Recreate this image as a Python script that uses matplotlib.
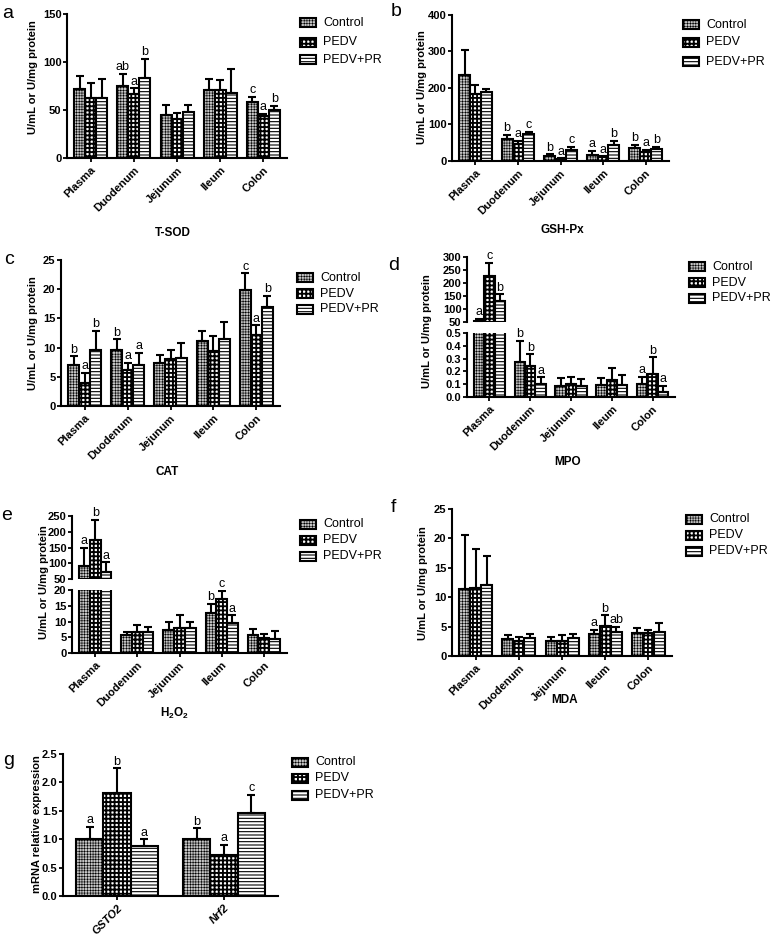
import matplotlib
matplotlib.use("Agg")
import matplotlib.pyplot as plt
from matplotlib.patches import Rectangle
import numpy as np

plt.rcParams['font.family'] = ['Liberation Sans', 'DejaVu Sans']
plt.rcParams['mathtext.fontset'] = 'custom'
plt.rcParams['mathtext.rm'] = 'Liberation Sans'
plt.rcParams['mathtext.bf'] = 'Liberation Sans:bold'

W, H = 772, 938

groups = ["Control", "PEDV", "PEDV+PR"]
tissues = ["Plasma", "Duodenum", "Jejunum", "Ileum", "Colon"]
genes = ["GSTO2", "Nrf2"]

# T-SOD
tsod_ctrl = [71.7, 74.5, 45.0, 70.7, 58.0]
tsod_pedv = [62.0, 67.0, 41.0, 70.7, 43.3]
tsod_pr = [63.0, 83.5, 48.0, 68.0, 50.0]
tsod_ctrl_sd = [14.2, 13.5, 9.7, 11.3, 5.7]
tsod_pedv_sd = [16.6, 5.7, 5.4, 11.0, 2.4]
tsod_pr_sd = [19.4, 19.5, 7.0, 24.8, 4.0]
tsod_letters = [["", "ab", "", "", "c"], ["", "a", "", "", "a"], ["", "b", "", "", "b"]]

# GSH-Px
gsh_ctrl = [236.7, 60.5, 13.8, 17.4, 35.0]
gsh_pedv = [183.5, 46.0, 5.5, 10.0, 24.0]
gsh_pr = [189.0, 74.3, 31.0, 43.0, 32.0]
gsh_ctrl_sd = [66.1, 11.1, 4.2, 10.1, 10.0]
gsh_pedv_sd = [24.5, 9.0, 1.5, 2.8, 7.0]
gsh_pr_sd = [9.0, 6.4, 7.5, 12.0, 6.5]
gsh_letters = [["", "b", "b", "a", "b"], ["", "a", "a", "a", "a"], ["", "c", "c", "b", "b"]]

# CAT
cat_ctrl = [7.0, 9.6, 7.4, 11.2, 19.9]
cat_pedv = [3.96, 6.1, 7.97, 9.46, 12.2]
cat_pr = [9.6, 7.0, 8.3, 11.5, 17.0]
cat_ctrl_sd = [1.5, 1.8, 1.4, 1.6, 2.8]
cat_pedv_sd = [1.7, 1.3, 1.7, 2.6, 1.6]
cat_pr_sd = [3.3, 2.1, 2.5, 2.9, 1.9]
cat_letters = [["b", "b", "", "", "c"], ["a", "a", "", "", "a"], ["b", "a", "", "", "b"]]

# MPO
mpo_ctrl = [55.0, 0.276, 0.083, 0.094, 0.099]
mpo_pedv = [228.0, 0.245, 0.10, 0.13, 0.18]
mpo_pr = [129.5, 0.104, 0.083, 0.094, 0.042]
mpo_ctrl_sd = [8.0, 0.16, 0.068, 0.057, 0.057]
mpo_pedv_sd = [50.0, 0.088, 0.06, 0.094, 0.13]
mpo_pr_sd = [26.5, 0.05, 0.06, 0.076, 0.047]
mpo_letters = [["a", "b", "", "", "a"], ["c", "b", "", "", "b"], ["b", "a", "", "", "a"]]

# H2O2
h2o2_ctrl = [91.6, 5.8, 7.4, 12.6, 5.7]
h2o2_pedv = [174.0, 6.7, 7.9, 17.1, 4.8]
h2o2_pr = [71.0, 6.8, 7.9, 9.4, 4.4]
h2o2_ctrl_sd = [58.0, 1.0, 2.6, 3.1, 1.8]
h2o2_pedv_sd = [64.0, 2.3, 4.3, 2.6, 1.3]
h2o2_pr_sd = [32.0, 1.3, 2.0, 2.6, 2.5]
h2o2_letters = [["a", "", "", "b", ""], ["b", "", "", "c", ""], ["a", "", "", "a", ""]]

# MDA
mda_ctrl = [11.4, 2.9, 2.56, 3.75, 3.98]
mda_pedv = [11.6, 2.56, 2.56, 5.1, 3.98]
mda_pr = [12.0, 3.07, 3.0, 4.0, 4.15]
mda_ctrl_sd = [9.1, 0.7, 0.74, 0.75, 0.82]
mda_pedv_sd = [6.6, 0.74, 1.04, 1.8, 0.52]
mda_pr_sd = [5.0, 0.63, 0.7, 0.9, 1.45]
mda_letters = [["", "", "", "a", ""], ["", "", "", "b", ""], ["", "", "", "ab", ""]]

# mRNA
mrna_ctrl = [1.0, 1.0]
mrna_pedv = [1.82, 0.73]
mrna_pr = [0.875, 1.46]
mrna_ctrl_sd = [0.22, 0.19]
mrna_pedv_sd = [0.43, 0.17]
mrna_pr_sd = [0.125, 0.32]
mrna_letters = [["a", "b"], ["b", "a"], ["a", "c"]]

styles = {
    "Control": dict(facecolor="#c4c4c4", hatch="++++++"),
    "PEDV": dict(facecolor="white", hatch="++++"),
    "PEDV+PR": dict(facecolor="white", hatch="-----"),
}
hatch_lw = {"Control": 0.4, "PEDV": 1.35, "PEDV+PR": 0.8}

BAR_W = 0.255
YLABEL = "U/mL or U/mg protein"
TICK_FS = 8
LAB_FS = 8


def set_hlw(artists, lw):
    for a in artists:
        if hasattr(a, "set_hatch_linewidth"):
            a.set_hatch_linewidth(lw)


def px_axes(fig, x0, x1, ytop, ybot):
    return fig.add_axes([x0 / W, 1 - ybot / H, (x1 - x0) / W, (ybot - ytop) / H])


def style_axis(ax, show_x=True):
    for s in ["top", "right"]:
        ax.spines[s].set_visible(False)
    ax.spines["left"].set_linewidth(1.5)
    ax.spines["bottom"].set_linewidth(1.5)
    ax.tick_params(axis="y", length=3, width=1.3, pad=1, labelsize=TICK_FS)
    ax.tick_params(axis="x", length=3, width=1.3, pad=2, labelsize=TICK_FS)
    for t in ax.get_yticklabels():
        t.set_fontweight("bold")
    if not show_x:
        ax.spines["bottom"].set_visible(False)
        ax.tick_params(axis="x", length=0, labelbottom=False)


def draw_bars(ax, means, sds, letters, base=0.0):
    lo, hi = ax.get_ylim()
    n = len(means[0])
    x = np.arange(n)
    for k, g in enumerate(groups):
        xs = x + (k - 1) * BAR_W
        m = np.array(means[k], dtype=float)
        sd = np.array(sds[k], dtype=float)
        keep = m > base
        with plt.rc_context({"hatch.linewidth": hatch_lw[g]}):
            bc = ax.bar(xs[keep], m[keep] - base, BAR_W, bottom=base, edgecolor="black",
                        linewidth=1.5, zorder=2, **styles[g])
            set_hlw(bc.patches, hatch_lw[g])
        ax.errorbar(xs[keep], m[keep], yerr=[np.zeros(keep.sum()), sd[keep]], fmt="none",
                    ecolor="black", elinewidth=1.5, capsize=3, capthick=1.5, zorder=3)
        for i in range(n):
            top = m[i] + sd[i]
            if letters[k][i] and lo <= top <= hi:
                ax.annotate(letters[k][i], (xs[i], top), xytext=(0, 0.5),
                            textcoords="offset points", ha="center", va="bottom",
                            fontsize=9, zorder=4)


def set_xcats(ax, labels, italic=False, lim=(-0.55, 4.55)):
    ax.set_xlim(*lim)
    ax.set_xticks(np.arange(len(labels)))
    ax.set_xticklabels(labels, rotation=45, ha="right", rotation_mode="anchor",
                       fontweight="bold", fontstyle="italic" if italic else "normal")


def legend(fig, x, ys):
    for g, y in zip(groups, ys):
        with plt.rc_context({"hatch.linewidth": hatch_lw[g]}):
            r = Rectangle((x / W, 1 - (y + 4.5) / H), 16 / W, 9 / H, transform=fig.transFigure,
                          edgecolor="black", linewidth=1.5, **styles[g])
            set_hlw([r], hatch_lw[g])
        fig.add_artist(r)
        fig.text((x + 23) / W, 1 - y / H, g, fontsize=9, ha="left", va="center")


def ylabel(fig, x, y, text):
    fig.text(x / W, 1 - y / H, text, rotation=90, ha="center", va="center",
             fontsize=LAB_FS, fontweight="bold")


def xlabel(fig, x, y, text):
    fig.text(x / W, 1 - y / H, text, ha="center", va="center", fontsize=8.5, fontweight="bold")


def letter(fig, x, y, text):
    fig.text(x / W, 1 - y / H, text, ha="center", va="center", fontsize=14)


def simple_panel(fig, box, means, sds, letters, ylim, yticks, cats, italic=False,
                 lim=(-0.55, 4.55), yfmt=None):
    ax = px_axes(fig, *box)
    ax.set_ylim(*ylim)
    ax.set_yticks(yticks)
    if yfmt:
        ax.set_yticklabels([yfmt % v for v in yticks])
    draw_bars(ax, means, sds, letters)
    set_xcats(ax, cats, italic, lim)
    style_axis(ax)
    return ax


def broken_panel(fig, xs, upper_box, lower_box, means, sds, letters, up_lim, up_ticks,
                 low_lim, low_ticks, low_fmt=None):
    up = px_axes(fig, xs[0], xs[1], *upper_box)
    up.set_ylim(*up_lim)
    up.set_yticks(up_ticks)
    draw_bars(up, means, sds, letters, base=up_lim[0])
    up.set_xlim(-0.55, 4.55)
    style_axis(up, show_x=False)
    low = px_axes(fig, xs[0], xs[1], *lower_box)
    low.set_ylim(*low_lim)
    low.set_yticks(low_ticks)
    if low_fmt:
        low.set_yticklabels([low_fmt % v for v in low_ticks])
    draw_bars(low, means, sds, letters)
    set_xcats(low, tissues)
    style_axis(low)
    return up, low


fig = plt.figure(figsize=(W / 100, H / 100), dpi=100)

# a
simple_panel(fig, (67, 287, 14, 158), [tsod_ctrl, tsod_pedv, tsod_pr],
             [tsod_ctrl_sd, tsod_pedv_sd, tsod_pr_sd], tsod_letters,
             (0, 150), [0, 50, 100, 150], tissues)
legend(fig, 300, [23, 42, 60])
ylabel(fig, 33, 77, YLABEL)
xlabel(fig, 173, 233, "T-SOD")
letter(fig, 8, 13, "a")

# b
simple_panel(fig, (452, 669, 15, 161), [gsh_ctrl, gsh_pedv, gsh_pr],
             [gsh_ctrl_sd, gsh_pedv_sd, gsh_pr_sd], gsh_letters,
             (0, 400), [0, 100, 200, 300, 400], tissues)
legend(fig, 683, [25, 42, 62])
ylabel(fig, 422, 87, YLABEL)
xlabel(fig, 562, 230, "GSH-Px")
letter(fig, 396, 12, "b")

# c
simple_panel(fig, (61, 280, 260, 406), [cat_ctrl, cat_pedv, cat_pr],
             [cat_ctrl_sd, cat_pedv_sd, cat_pr_sd], cat_letters,
             (0, 25), [0, 5, 10, 15, 20, 25], tissues)
legend(fig, 297, [278, 294, 309])
ylabel(fig, 33, 333, YLABEL)
xlabel(fig, 167, 472, "CAT")
letter(fig, 9, 260, "c")

# d
broken_panel(fig, (467, 675), (257, 322), (333, 397), [mpo_ctrl, mpo_pedv, mpo_pr],
             [mpo_ctrl_sd, mpo_pedv_sd, mpo_pr_sd], mpo_letters,
             (50, 300), [50, 100, 150, 200, 250, 300],
             (0, 0.5), [0, 0.1, 0.2, 0.3, 0.4, 0.5], "%.1f")
legend(fig, 689, [267, 283, 298])
ylabel(fig, 427, 331, YLABEL)
xlabel(fig, 568, 462, "MPO")
letter(fig, 394, 265, "d")

# e
broken_panel(fig, (72, 287), (516, 579), (590, 653), [h2o2_ctrl, h2o2_pedv, h2o2_pr],
             [h2o2_ctrl_sd, h2o2_pedv_sd, h2o2_pr_sd], h2o2_letters,
             (50, 250), [50, 100, 150, 200, 250],
             (0, 20), [0, 5, 10, 15, 20])
legend(fig, 300, [524, 540, 556])
ylabel(fig, 44, 582, YLABEL)
xlabel(fig, 175, 713, r"$\mathbf{H_2O_2}$")
letter(fig, 7, 516, "e")

# f
simple_panel(fig, (452, 672, 509, 656), [mda_ctrl, mda_pedv, mda_pr],
             [mda_ctrl_sd, mda_pedv_sd, mda_pr_sd], mda_letters,
             (0, 25), [0, 5, 10, 15, 20, 25], tissues)
legend(fig, 686, [519, 535, 551])
ylabel(fig, 423, 583, YLABEL)
xlabel(fig, 565, 700, "MDA")
letter(fig, 393, 507, "f")

# g
simple_panel(fig, (63, 278, 754, 896), [mrna_ctrl, mrna_pedv, mrna_pr],
             [mrna_ctrl_sd, mrna_pedv_sd, mrna_pr_sd], mrna_letters,
             (0, 2.5), [0, 0.5, 1.0, 1.5, 2.0, 2.5], genes, italic=True,
             lim=(-0.505, 1.505), yfmt="%.1f")
legend(fig, 292, [762, 778, 795])
ylabel(fig, 37, 824, "mRNA relative expression")
letter(fig, 9, 760, "g")

fig.savefig("out.png", dpi=100)
